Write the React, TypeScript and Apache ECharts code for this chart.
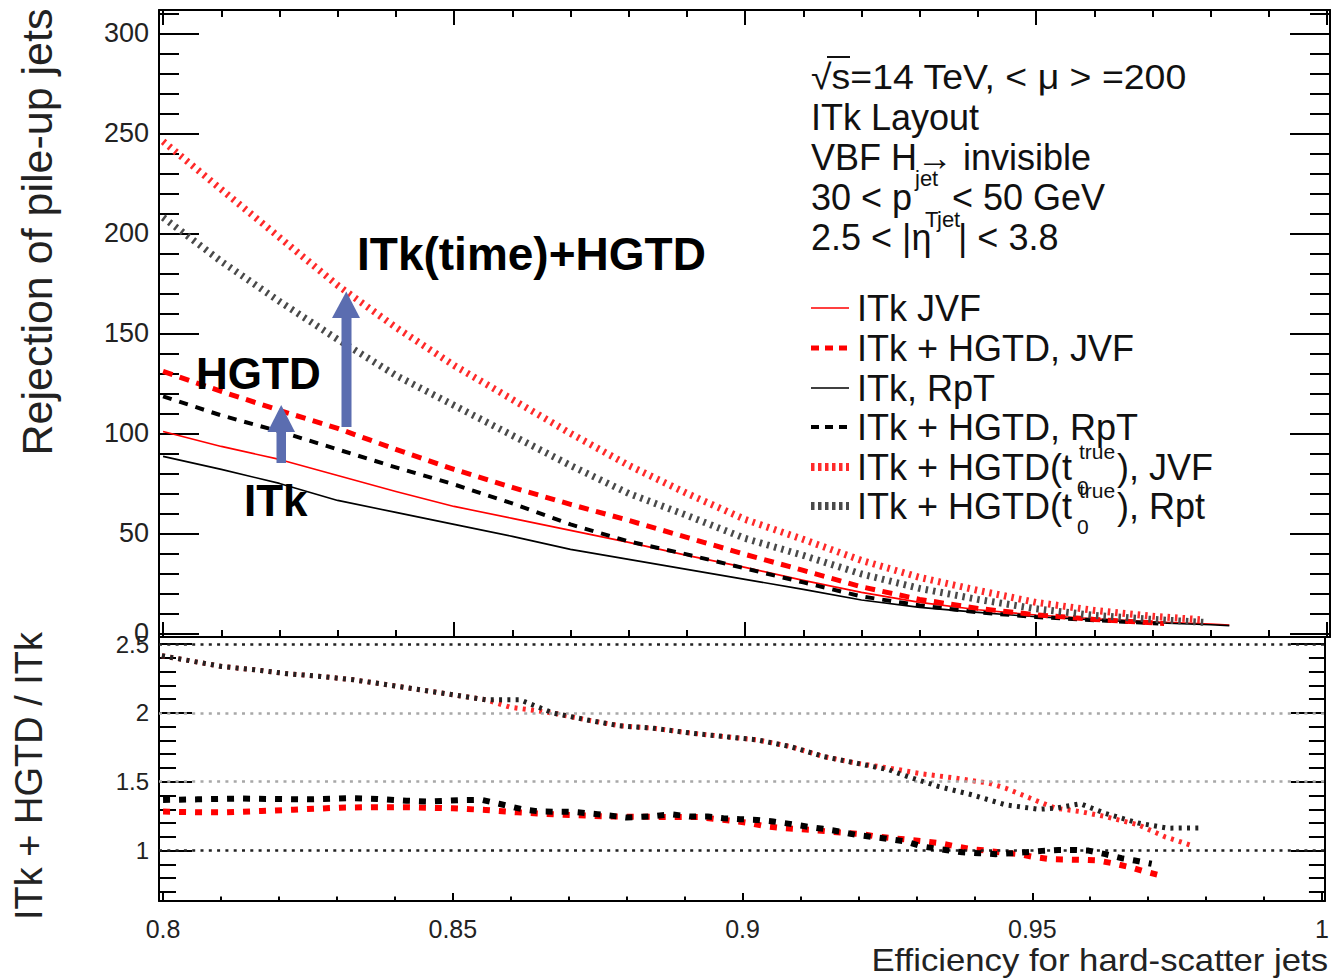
import React, { useEffect, useRef } from "react";
import * as echarts from "echarts";

// ---------- tick values ----------
const xMajorTicks = [0.8, 0.85, 0.9, 0.95, 1.0];
const xMinorTicks = [0.81, 0.82, 0.83, 0.84, 0.86, 0.87, 0.88, 0.89, 0.91, 0.92, 0.93, 0.94, 0.96, 0.97, 0.98, 0.99];
const rejMajorTicks = [0, 50, 100, 150, 200, 250, 300];
const rejMinorTicks = [10, 20, 30, 40, 60, 70, 80, 90, 110, 120, 130, 140, 160, 170, 180, 190, 210, 220, 230, 240, 260, 270, 280, 290, 310];
const ratioMajorTicks = [1, 1.5, 2, 2.5];
const ratioMinorTicks = [0.7, 0.8, 0.9, 1.1, 1.2, 1.3, 1.4, 1.6, 1.7, 1.8, 1.9, 2.1, 2.2, 2.3, 2.4];
const ratioRefLines = [1, 1.5, 2, 2.5];

// ---------- top panel: rejection vs efficiency ----------
const itkJvf = [[0.80, 101], [0.81, 93.5], [0.82, 87], [0.83, 79], [0.84, 71], [0.85, 63.5], [0.86, 57.5], [0.87, 51.5], [0.88, 45.5], [0.89, 39], [0.90, 33], [0.91, 26.5], [0.92, 20.5], [0.93, 15.5], [0.94, 11.8], [0.95, 9.2], [0.96, 7.3], [0.97, 5.8], [0.98, 4.7], [0.9832, 4.2]];
const itkHgtdJvf = [[0.80, 131], [0.81, 121], [0.82, 111.5], [0.83, 102.5], [0.84, 92], [0.85, 82], [0.86, 73], [0.87, 64.5], [0.88, 56.5], [0.89, 48], [0.90, 39.5], [0.91, 31.5], [0.92, 23.3], [0.93, 17], [0.94, 12.5], [0.95, 9.3], [0.96, 7], [0.972, 5]];
const itkRpt = [[0.80, 88.5], [0.81, 82], [0.82, 75], [0.83, 66.5], [0.84, 60.5], [0.85, 54.5], [0.86, 48.5], [0.87, 42], [0.88, 37], [0.89, 32], [0.90, 27], [0.91, 22], [0.92, 16.7], [0.93, 13], [0.94, 10.5], [0.95, 8.3], [0.96, 6.7], [0.97, 5.3], [0.98, 4.3], [0.9832, 3.9]];
const itkHgtdRpt = [[0.80, 118.5], [0.81, 109], [0.82, 101], [0.83, 92], [0.84, 83], [0.85, 74.5], [0.86, 65], [0.87, 54.5], [0.88, 46], [0.89, 39.5], [0.90, 32.5], [0.91, 25.5], [0.92, 18.5], [0.93, 14], [0.94, 10.5], [0.95, 8.2], [0.96, 6.6], [0.971, 5]];
const itkHgtdT0Jvf = [[0.80, 246], [0.81, 222], [0.82, 198], [0.83, 174], [0.84, 153], [0.85, 134], [0.86, 117], [0.87, 100], [0.88, 84], [0.89, 70], [0.90, 57], [0.91, 47], [0.92, 36.5], [0.93, 28], [0.94, 21.5], [0.95, 15.5], [0.96, 11.5], [0.97, 8.6], [0.979, 6.7]];
const itkHgtdT0Rpt = [[0.80, 208], [0.81, 186], [0.82, 166], [0.83, 147], [0.84, 129], [0.85, 114], [0.86, 99], [0.87, 84], [0.88, 70], [0.89, 59], [0.90, 47.5], [0.91, 39], [0.92, 29.7], [0.93, 22.5], [0.94, 17], [0.95, 12.3], [0.96, 9], [0.97, 7], [0.979, 5.5]];

// ---------- bottom panel: ratio ITk+HGTD / ITk ----------
const ratioHgtdJvf = [[0.800, 1.283], [0.806, 1.279], [0.811, 1.278], [0.817, 1.288], [0.8225, 1.297], [0.8305, 1.312], [0.836, 1.315], [0.842, 1.315], [0.847, 1.31], [0.850, 1.307], [0.8557, 1.295], [0.8611, 1.278], [0.8691, 1.26], [0.8774, 1.247], [0.8883, 1.244], [0.8927, 1.243], [0.8956, 1.228], [0.8985, 1.216], [0.9013, 1.199], [0.9042, 1.175], [0.907, 1.163], [0.9122, 1.15], [0.915, 1.138], [0.9208, 1.119], [0.9231, 1.102], [0.9259, 1.09], [0.9288, 1.078], [0.9317, 1.066], [0.934, 1.054], [0.9368, 1.03], [0.9397, 1.01], [0.942, 1.0], [0.9448, 0.986], [0.9477, 0.974], [0.9505, 0.952], [0.9534, 0.937], [0.9585, 0.933], [0.9614, 0.928], [0.9643, 0.904], [0.9668, 0.88], [0.9694, 0.848], [0.9723, 0.817]];
const ratioHgtdRpt = [[0.800, 1.368], [0.806, 1.372], [0.813, 1.378], [0.820, 1.374], [0.826, 1.372], [0.832, 1.381], [0.837, 1.375], [0.842, 1.362], [0.846, 1.356], [0.851, 1.366], [0.855, 1.368], [0.858, 1.34], [0.862, 1.30], [0.865, 1.284], [0.871, 1.281], [0.875, 1.264], [0.880, 1.24], [0.884, 1.248], [0.8876, 1.264], [0.891, 1.247], [0.894, 1.247], [0.8967, 1.235], [0.8996, 1.228], [0.9025, 1.223], [0.9053, 1.211], [0.9082, 1.194], [0.911, 1.175], [0.9139, 1.158], [0.9168, 1.138], [0.9196, 1.114], [0.9242, 1.09], [0.9282, 1.066], [0.931, 1.03], [0.935, 1.005], [0.9379, 0.988], [0.9408, 0.981], [0.9437, 0.974], [0.9465, 0.981], [0.9488, 0.988], [0.9517, 0.998], [0.9545, 1.005], [0.9571, 1.005], [0.9597, 1.0], [0.9626, 0.974], [0.9654, 0.945], [0.9677, 0.928], [0.9706, 0.904]];
const ratioT0Jvf = [[0.7998, 2.415], [0.8043, 2.381], [0.8101, 2.337], [0.8158, 2.313], [0.8215, 2.284], [0.8272, 2.265], [0.8329, 2.24], [0.8387, 2.204], [0.8444, 2.168], [0.8501, 2.131], [0.8558, 2.095], [0.8598, 2.042], [0.8673, 1.999], [0.873, 1.95], [0.8788, 1.906], [0.8845, 1.889], [0.8911, 1.853], [0.8968, 1.828], [0.9025, 1.804], [0.9082, 1.756], [0.914, 1.683], [0.9196, 1.635], [0.9253, 1.599], [0.931, 1.557], [0.9368, 1.526], [0.9425, 1.49], [0.9454, 1.453], [0.9511, 1.356], [0.954, 1.308], [0.9583, 1.283], [0.9626, 1.247], [0.9683, 1.187], [0.9729, 1.10], [0.9773, 1.04]];
const ratioT0Rpt = [[0.7998, 2.415], [0.8043, 2.381], [0.8101, 2.337], [0.8158, 2.313], [0.8215, 2.284], [0.8272, 2.265], [0.8329, 2.24], [0.8387, 2.204], [0.8444, 2.168], [0.8501, 2.131], [0.8558, 2.095], [0.8616, 2.095], [0.8673, 1.999], [0.873, 1.95], [0.8788, 1.906], [0.8845, 1.889], [0.8911, 1.853], [0.8968, 1.828], [0.9025, 1.804], [0.9082, 1.756], [0.914, 1.683], [0.9196, 1.635], [0.9253, 1.586], [0.9293, 1.526], [0.9339, 1.465], [0.9396, 1.405], [0.9454, 1.332], [0.9511, 1.30], [0.954, 1.308], [0.9583, 1.34], [0.9626, 1.27], [0.9683, 1.20], [0.9734, 1.163], [0.9788, 1.165]];

// ---------- texts ----------
const infoLines = ["√s=14 TeV, < μ > =200", "ITk Layout", "VBF H→ invisible"];
const legendLabels = ["ITk JVF", "ITk + HGTD, JVF", "ITk, RpT", "ITk + HGTD, RpT"];
const legendT0Suffix = ["), JVF", "), Rpt"];

const FONT = "'Liberation Sans', Arial, Helvetica, sans-serif";
const RED = "#ff0000";
const BLUE = "#5b6db0";

const X_MIN = 0.7993, X_MAX = 1.0005;
const REJ_MIN = -1.8, REJ_MAX = 311.7;
const R_MIN = 0.634, R_MAX = 2.551;

const STYLE_RED_SOLID = { color: RED, width: 1.6, type: "solid" };
const STYLE_BLACK_SOLID = { color: "#000", width: 1.6, type: "solid" };
const STYLE_RED_DASH = { color: RED, width: 5, type: [10, 7.5] };
const STYLE_BLACK_DASH = { color: "#000", width: 4, type: [9, 8] };
const STYLE_RED_DOT = { color: "#ff2a2a", width: 7, type: [2.5, 5] };
const STYLE_BLACK_DOT = { color: "#4a4a4a", width: 7, type: [2.5, 5] };

function xAx(grid: number, pos: string, ticks: number[], len: number, line: boolean, labels = false) {
  return {
    type: "value", gridIndex: grid, position: pos, min: X_MIN, max: X_MAX,
    axisLine: { show: line, onZero: false, lineStyle: { color: "#000", width: 2 } },
    axisTick: { show: true, inside: true, length: len, customValues: ticks, lineStyle: { color: "#000", width: 2 } },
    axisLabel: labels
      ? { show: true, customValues: ticks, fontSize: 25, color: "#222", fontFamily: FONT, margin: 15 }
      : { show: false },
    splitLine: { show: false },
  };
}

function yAx(grid: number, pos: string, min: number, max: number, ticks: number[], len: number, line: boolean, labelSize = 0) {
  return {
    type: "value", gridIndex: grid, position: pos, min, max,
    axisLine: { show: line, onZero: false, lineStyle: { color: "#000", width: 2 } },
    axisTick: { show: true, inside: true, length: len, customValues: ticks, lineStyle: { color: "#000", width: 2 } },
    axisLabel: labelSize
      ? { show: true, customValues: ticks, fontSize: labelSize, color: "#222", fontFamily: FONT, margin: 10 }
      : { show: false },
    splitLine: { show: false },
  };
}

function lineSeries(name: string, data: number[][], xi: number, yi: number, style: any, z: number, extra: any = {}) {
  return {
    name, type: "line", data, xAxisIndex: xi, yAxisIndex: yi,
    symbol: "none", showSymbol: false, smooth: false, z,
    lineStyle: { ...style, cap: "butt", join: "round" },
    emphasis: { disabled: true },
    ...extra,
  };
}

function txt(text: string, x: number, y: number, size: number, opts: any = {}) {
  const { weight, align, fill, rotation, scaleX } = opts;
  const el: any = {
    type: "text", x, y, silent: true, z: 10,
    style: {
      text, fontSize: size, fontFamily: FONT, fontWeight: weight || "normal",
      fill: fill || "#111", align: align || "left", verticalAlign: "middle",
    },
  };
  if (rotation) el.rotation = rotation;
  if (scaleX) el.scaleX = scaleX;
  return el;
}

function legendSample(y: number, style: any) {
  return {
    type: "line", silent: true, z: 10,
    shape: { x1: 811, y1: y, x2: 849, y2: y },
    style: {
      stroke: style.color, lineWidth: style.width === 7 ? 8 : style.width,
      lineDash: Array.isArray(style.type) ? (style.width === 7 ? [3.5, 3.5] : [8, 6]) : null,
    },
  };
}

function buildGraphic() {
  const g: any[] = [];
  // axis titles
  g.push(txt("Rejection of pile-up jets", 37, 232, 43, { align: "center", rotation: Math.PI / 2, fill: "#222" }));
  g.push(txt("ITk + HGTD / ITk", 29, 776, 38, { align: "center", rotation: Math.PI / 2, fill: "#222" }));
  g.push(txt("Efficiency for hard-scatter jets", 1328, 960, 31, { align: "right", scaleX: 1.12, fill: "#222" }));

  // info block
  g.push(txt(infoLines[0], 811, 77, 35, { scaleX: 1.07 }));
  g.push({ type: "line", silent: true, z: 10, shape: { x1: 827, y1: 57, x2: 850, y2: 57 }, style: { stroke: "#111", lineWidth: 2 } });
  g.push(txt(infoLines[1], 811, 117, 36));
  g.push(txt(infoLines[2], 811, 157, 36));
  g.push(txt("30 < p", 811, 197, 36));
  g.push(txt("jet", 915, 178, 22));
  g.push(txt("T", 925, 219, 22));
  g.push(txt("< 50 GeV", 952, 197, 36));
  g.push(txt("2.5 < |η", 811, 237, 36));
  g.push(txt("jet", 937, 219, 22));
  g.push(txt("| < 3.8", 958, 237, 36));

  // legend
  const rows = [308, 348, 388, 427, 467, 506];
  const styles = [STYLE_RED_SOLID, STYLE_RED_DASH, STYLE_BLACK_SOLID, STYLE_BLACK_DASH, STYLE_RED_DOT, STYLE_BLACK_DOT];
  rows.forEach((y, i) => {
    g.push(legendSample(y, styles[i]));
    if (i < 4) {
      g.push(txt(legendLabels[i], 857, y, 36));
    } else {
      g.push(txt("ITk + HGTD(t", 857, y, 36));
      g.push(txt("true", 1079, y - 16, 21));
      g.push(txt("0", 1077, y + 20, 21));
      g.push(txt(legendT0Suffix[i - 4], 1117, y, 36));
    }
  });

  // annotations
  g.push(txt("ITk(time)+HGTD", 357, 254, 46, { weight: "bold", fill: "#000" }));
  g.push(txt("HGTD", 196, 373, 44, { weight: "bold", fill: "#000" }));
  g.push(txt("ITk", 244, 500, 44, { weight: "bold", fill: "#000" }));

  // arrows
  g.push({ type: "rect", silent: true, z: 11, shape: { x: 276.5, y: 428, width: 9.5, height: 35 }, style: { fill: BLUE } });
  g.push({ type: "polygon", silent: true, z: 11, shape: { points: [[267.5, 432], [295, 432], [281.2, 405]] }, style: { fill: BLUE } });
  g.push({ type: "rect", silent: true, z: 11, shape: { x: 341.5, y: 314, width: 10, height: 113 }, style: { fill: BLUE } });
  g.push({ type: "polygon", silent: true, z: 11, shape: { points: [[332, 318], [360, 318], [346.3, 291.5]] }, style: { fill: BLUE } });
  return g;
}

function buildOption() {
  const refLineData = ratioRefLines.map((v) => ({
    yAxis: v,
    lineStyle: { color: v === 1 || v === 2.5 ? "#222" : "#a8a8a8", type: [3, 5.3], width: 2.5 },
  }));
  return {
    animation: false,
    backgroundColor: "#ffffff",
    grid: [
      { left: 159, top: 10, width: 1171, height: 627, containLabel: false },
      { left: 159, top: 637, width: 1171, height: 264, containLabel: false },
    ],
    xAxis: [
      xAx(0, "bottom", xMajorTicks, 15, true),
      xAx(0, "bottom", xMinorTicks, 7, false),
      xAx(0, "top", xMajorTicks, 15, true),
      xAx(0, "top", xMinorTicks, 7, false),
      xAx(1, "bottom", xMajorTicks, 8, true, true),
      xAx(1, "bottom", xMinorTicks, 4.5, false),
    ],
    yAxis: [
      yAx(0, "left", REJ_MIN, REJ_MAX, rejMajorTicks, 40, true, 27),
      yAx(0, "left", REJ_MIN, REJ_MAX, rejMinorTicks, 20, false),
      yAx(0, "right", REJ_MIN, REJ_MAX, rejMajorTicks, 40, true),
      yAx(0, "right", REJ_MIN, REJ_MAX, rejMinorTicks, 20, false),
      yAx(1, "left", R_MIN, R_MAX, ratioMajorTicks, 33, true, 24),
      yAx(1, "left", R_MIN, R_MAX, ratioMinorTicks, 17, false),
      yAx(1, "right", R_MIN, R_MAX, ratioMajorTicks, 34, true),
      yAx(1, "right", R_MIN, R_MAX, ratioMinorTicks, 16, false),
    ],
    series: [
      lineSeries("ITk JVF", itkJvf, 0, 0, STYLE_RED_SOLID, 3),
      lineSeries("ITk, RpT", itkRpt, 0, 0, STYLE_BLACK_SOLID, 3),
      lineSeries("ITk + HGTD, RpT", itkHgtdRpt, 0, 0, STYLE_BLACK_DASH, 4),
      lineSeries("ITk + HGTD, JVF", itkHgtdJvf, 0, 0, STYLE_RED_DASH, 4),
      lineSeries("ITk + HGTD(t0 true), Rpt", itkHgtdT0Rpt, 0, 0, STYLE_BLACK_DOT, 5),
      lineSeries("ITk + HGTD(t0 true), JVF", itkHgtdT0Jvf, 0, 0, STYLE_RED_DOT, 5),
      lineSeries("ratio HGTD JVF", ratioHgtdJvf, 4, 4, { color: RED, width: 6, type: [7, 9] }, 4, {
        markLine: { silent: true, symbol: ["none", "none"], label: { show: false }, emphasis: { disabled: true }, data: refLineData },
      }),
      lineSeries("ratio HGTD RpT", ratioHgtdRpt, 4, 4, { color: "#000", width: 6, type: [7, 9] }, 5),
      lineSeries("ratio t0 JVF", ratioT0Jvf, 4, 4, { color: "#ff2a2a", width: 5, type: [3, 5.3] }, 4),
      lineSeries("ratio t0 RpT", ratioT0Rpt, 4, 4, { color: "#222", width: 5, type: [3, 5.3] }, 5),
    ],
    graphic: buildGraphic(),
  };
}

export default function App() {
  const ref = useRef<HTMLDivElement>(null);
  useEffect(() => {
    if (!ref.current) return;
    const chart = echarts.init(ref.current, undefined, { renderer: "svg" });
    chart.setOption(buildOption() as any);
    return () => chart.dispose();
  }, []);
  return (
    <div
      ref={ref}
      style={{ position: "fixed", left: 0, top: 0, width: 1332, height: 978, background: "#fff" }}
    />
  );
}
